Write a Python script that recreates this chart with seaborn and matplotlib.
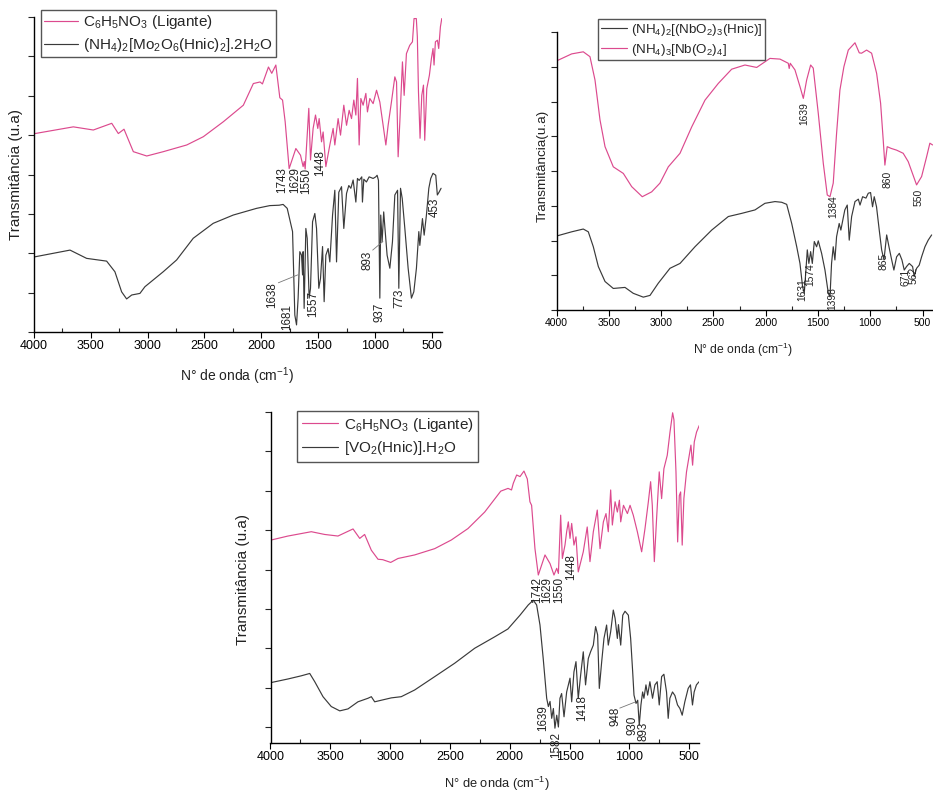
import matplotlib
matplotlib.use("Agg")
import matplotlib.pyplot as plt
import seaborn as sns
import pandas as pd
from matplotlib.ticker import MultipleLocator

# ---------------- DATA (wavenumber cm-1, transmittance in arbitrary units) ----------------
# Panel 1: ligand and Mo complex
p1_lig_w = [3991, 3654, 3478, 3316, 3258, 3208, 3126, 3008, 2862, 2656, 2510, 2334, 2158, 2070, 2011,
            1990, 1937, 1908, 1872, 1837, 1813, 1790, 1755, 1696, 1655, 1632, 1622, 1614, 1596, 1582,
            1567, 1544, 1523, 1503, 1491, 1470, 1456, 1432, 1397, 1368, 1353, 1324, 1303, 1274, 1250,
            1227, 1206, 1186, 1168, 1154, 1139, 1124, 1104, 1080, 1066, 1045, 1016, 986, 957, 928,
            904, 884, 855, 825, 810, 796, 781, 758, 743, 723, 694, 670, 656, 636, 627, 617, 603, 588,
            573, 562, 544, 521, 503, 489, 480, 468, 450, 439, 424, 412]
p1_lig_t = [5.04, 5.21, 5.13, 5.30, 5.04, 5.15, 4.58, 4.47, 4.58, 4.75, 4.96, 5.34, 5.76, 6.31, 6.35,
            6.30, 6.73, 6.57, 6.78, 5.95, 5.89, 5.34, 4.15, 4.66, 4.49, 4.20, 4.33, 4.14, 5.00, 5.68,
            4.37, 5.17, 5.51, 5.17, 5.42, 4.83, 5.08, 4.20, 4.75, 5.17, 4.75, 5.42, 5.00, 5.76, 5.25,
            5.63, 5.42, 5.89, 5.51, 6.44, 4.75, 5.93, 5.76, 6.06, 5.59, 5.93, 5.80, 6.14, 5.84, 5.25,
            4.75, 5.25, 5.84, 6.48, 6.35, 4.45, 5.34, 6.86, 6.01, 7.07, 7.28, 7.37, 7.96, 7.96, 7.50,
            6.10, 4.92, 6.01, 6.27, 4.87, 6.18, 6.52, 6.95, 7.20, 6.78, 7.37, 7.41, 7.20, 7.75, 7.96]

p1_mo_w = [3991, 3683, 3537, 3361, 3288, 3229, 3185, 3140, 3068, 3024, 2863, 2745, 2599, 2423, 2247,
           2042, 1925, 1843, 1808, 1772, 1725, 1705, 1690, 1676, 1661, 1646, 1637, 1632, 1623, 1608,
           1596, 1579, 1567, 1549, 1529, 1514, 1494, 1479, 1461, 1447, 1432, 1412, 1397, 1373, 1353,
           1338, 1318, 1294, 1274, 1250, 1230, 1212, 1192, 1168, 1154, 1139, 1116, 1110, 1098, 1075,
           1051, 1016, 993, 981, 969, 957, 949, 937, 923, 911, 893, 869, 846, 825, 801, 790, 775, 760,
           737, 708, 679, 658, 635, 614, 605, 582, 567, 547, 526, 509, 489, 465, 451, 436, 418]
p1_mo_t = [1.91, 2.08, 1.87, 1.80, 1.53, 1.02, 0.84, 0.94, 0.98, 1.15, 1.53, 1.83, 2.38, 2.76, 2.97,
           3.14, 3.21, 3.22, 3.24, 3.14, 2.55, 0.43, 0.18, 0.86, 2.04, 1.95, 1.45, 2.04, 0.60, 2.63,
           2.38, 0.86, 1.11, 2.80, 3.01, 2.63, 1.11, 1.36, 2.17, 0.77, 1.95, 2.12, 1.78, 2.97, 3.60,
           1.78, 3.55, 3.69, 2.63, 3.52, 3.72, 3.65, 3.86, 3.30, 3.90, 3.85, 3.94, 3.30, 3.88, 3.81,
           3.94, 3.90, 3.94, 3.98, 3.85, 0.86, 2.97, 2.29, 3.05, 2.60, 1.95, 1.62, 2.29, 3.48, 3.60,
           1.11, 3.65, 3.39, 2.63, 1.62, 0.86, 1.02, 1.62, 2.55, 2.20, 2.88, 2.46, 2.97, 3.65, 3.90,
           4.03, 3.98, 3.48, 3.55, 3.65]

# Panel 2: Nb complexes
p2_nb_w = [3998, 3855, 3744, 3680, 3632, 3584, 3536, 3457, 3361, 3281, 3180, 3090, 3011, 2931, 2819,
           2707, 2580, 2453, 2325, 2198, 2086, 1959, 1863, 1784, 1775, 1765, 1720, 1672, 1640, 1608,
           1570, 1545, 1497, 1449, 1411, 1385, 1354, 1322, 1290, 1252, 1210, 1146, 1105, 1083, 1035,
           987, 939, 901, 876, 860, 838, 800, 748, 685, 637, 557, 509, 461, 430, 404]
p2_nb_t = [7.17, 7.37, 7.43, 7.29, 6.62, 5.47, 4.70, 4.12, 3.93, 3.55, 3.26, 3.40, 3.65, 4.12, 4.51,
           5.27, 6.04, 6.52, 6.93, 7.05, 6.98, 7.24, 7.22, 7.10, 6.95, 7.10, 6.91, 6.43, 6.09, 6.62,
           7.05, 6.96, 5.66, 4.22, 3.31, 3.26, 3.65, 5.08, 6.33, 7.00, 7.48, 7.69, 7.40, 7.39, 7.48,
           7.39, 6.81, 5.95, 4.89, 4.17, 4.70, 4.65, 4.60, 4.51, 4.27, 3.60, 3.84, 4.41, 4.80, 4.75]

p2_nbh_w = [3998, 3855, 3744, 3696, 3648, 3600, 3536, 3457, 3345, 3266, 3170, 3106, 3027, 2915, 2819,
            2676, 2516, 2357, 2230, 2102, 2007, 1911, 1847, 1799, 1751, 1703, 1672, 1647, 1631, 1615,
            1602, 1587, 1570, 1554, 1535, 1513, 1497, 1465, 1433, 1401, 1385, 1370, 1354, 1338, 1322,
            1297, 1281, 1259, 1243, 1220, 1201, 1178, 1146, 1114, 1098, 1073, 1041, 1019, 997, 978,
            962, 940, 914, 891, 869, 843, 821, 795, 774, 748, 722, 697, 675, 653, 627, 595, 580, 557,
            532, 509, 477, 446, 413]
p2_nbh_t = [2.13, 2.25, 2.33, 2.25, 1.82, 1.25, 0.82, 0.62, 0.65, 0.48, 0.37, 0.42, 0.77, 1.20, 1.34,
            1.82, 2.30, 2.69, 2.78, 2.88, 3.07, 3.12, 3.10, 3.04, 2.49, 1.82, 1.34, 0.67, 0.48, 1.15,
            1.73, 1.34, 1.68, 1.34, 1.97, 1.82, 1.99, 1.63, 1.15, 0.48, 0.38, 1.34, 1.82, 1.44, 2.11,
            2.49, 2.30, 2.64, 2.88, 3.02, 2.01, 2.69, 3.12, 3.19, 3.02, 3.26, 3.22, 3.36, 3.38, 2.97,
            3.26, 2.97, 2.30, 1.73, 1.44, 2.16, 1.82, 1.44, 1.15, 1.53, 1.63, 1.44, 1.15, 1.25, 1.34,
            1.25, 0.96, 1.20, 1.29, 1.53, 1.82, 2.01, 2.16]

# Panel 3: ligand and V complex
p3_lig_w = [3993, 3854, 3659, 3547, 3436, 3352, 3310, 3254, 3213, 3157, 3101, 3062, 2995, 2934, 2795,
            2627, 2488, 2349, 2209, 2075, 2014, 1985, 1970, 1942, 1914, 1881, 1853, 1831, 1817, 1789,
            1761, 1705, 1663, 1630, 1607, 1593, 1574, 1560, 1538, 1524, 1510, 1496, 1482, 1463, 1446,
            1427, 1385, 1352, 1329, 1301, 1268, 1245, 1217, 1195, 1176, 1156, 1142, 1119, 1100, 1083,
            1072, 1049, 1016, 994, 967, 933, 897, 869, 841, 822, 808, 791, 772, 750, 730, 711, 683,
            660, 638, 627, 610, 596, 582, 571, 558, 544, 522, 499, 485, 471, 457, 438, 415]
p3_lig_t = [4.75, 4.85, 4.96, 4.89, 4.85, 4.97, 5.03, 4.79, 4.89, 4.49, 4.26, 4.25, 4.18, 4.28, 4.37,
            4.53, 4.75, 5.04, 5.46, 5.99, 6.06, 6.02, 6.19, 6.40, 6.36, 6.50, 6.30, 5.72, 5.63, 4.53,
            3.86, 4.37, 4.15, 3.86, 4.03, 3.90, 5.38, 4.28, 4.62, 4.96, 5.21, 4.79, 5.17, 4.62, 4.83,
            3.94, 4.45, 5.08, 4.20, 4.96, 5.51, 4.53, 5.21, 5.42, 4.96, 6.02, 5.13, 5.72, 5.46, 5.76,
            5.21, 5.63, 5.42, 5.63, 5.38, 4.96, 4.45, 5.04, 5.72, 6.23, 5.63, 4.20, 5.30, 6.48, 5.80,
            6.56, 6.90, 7.49, 7.98, 7.80, 6.48, 4.70, 5.88, 5.97, 4.62, 5.80, 6.48, 6.90, 7.16, 6.65,
            7.24, 7.49, 7.66]

p3_v_w = [3993, 3854, 3743, 3672, 3630, 3561, 3492, 3421, 3352, 3269, 3185, 3157, 3129, 3074, 2990,
          2907, 2795, 2627, 2460, 2293, 2126, 2015, 1914, 1845, 1803, 1775, 1747, 1720, 1691, 1677,
          1663, 1649, 1635, 1622, 1607, 1593, 1580, 1566, 1546, 1524, 1496, 1482, 1463, 1446, 1427,
          1407, 1385, 1366, 1343, 1324, 1301, 1282, 1265, 1251, 1231, 1212, 1190, 1176, 1156, 1134,
          1119, 1100, 1091, 1072, 1055, 1036, 1008, 989, 972, 961, 944, 930, 917, 903, 889, 878, 861,
          847, 828, 806, 786, 767, 750, 730, 711, 689, 675, 661, 639, 619, 597, 577, 558, 536, 508,
          489, 472, 458, 439, 417]
p3_v_t = [1.13, 1.22, 1.30, 1.36, 1.15, 0.77, 0.52, 0.41, 0.46, 0.64, 0.73, 0.77, 0.64, 0.68, 0.74,
          0.77, 0.94, 1.28, 1.62, 2.00, 2.29, 2.49, 2.84, 3.10, 3.22, 3.10, 2.59, 1.74, 0.73, 0.52,
          0.65, 0.22, 0.47, -0.03, 0.30, 0.00, 0.73, 0.85, 0.26, 0.89, 1.24, 0.64, 1.40, 1.66, 0.73,
          1.32, 1.91, 1.07, 1.74, 1.91, 2.08, 2.55, 2.34, 0.98, 1.66, 2.25, 2.59, 2.08, 2.42, 2.97,
          2.76, 2.25, 2.60, 2.08, 2.84, 2.94, 2.84, 2.25, 1.40, 0.81, 0.60, 0.68, 0.05, 0.56, 0.89,
          0.73, 1.07, 0.81, 1.15, 0.73, 1.07, 1.15, 0.56, 1.28, 1.34, 0.89, 0.22, 0.73, 0.89, 0.80,
          0.56, 0.47, 0.30, 0.64, 0.98, 1.07, 0.56, 0.89, 1.07, 1.15]

# Legend labels
p1_labels = [r"C$_6$H$_5$NO$_3$ (Ligante)", r"(NH$_4$)$_2$[Mo$_2$O$_6$(Hnic)$_2$].2H$_2$O"]
p2_labels = [r"(NH$_4$)$_2$[(NbO$_2$)$_3$(Hnic)]", r"(NH$_4$)$_3$[Nb(O$_2$)$_4$]"]
p3_labels = [r"C$_6$H$_5$NO$_3$ (Ligante)", r"[VO$_2$(Hnic)].H$_2$O"]

# Peak annotations: (text, x, y)
p1_peaks = [("1743", 1819, 3.86), ("1629", 1705, 3.86), ("1550", 1608, 3.83), ("1448", 1485, 4.29),
            ("1638", 1907, 0.95), ("1681", 1775, 0.37), ("1557", 1546, 0.70), ("937", 957, 0.51),
            ("893", 1063, 1.83), ("773", 781, 0.86), ("453", 474, 3.17)]
p2_peaks = [("1639", 1634, 5.65), ("1384", 1357, 2.98), ("860", 836, 3.77), ("550", 534, 3.24),
            ("1631", 1648, 0.58), ("1574", 1577, 1.01), ("1398", 1366, 0.33), ("865", 869, 1.41),
            ("671", 659, 0.94), ("562", 582, 1.01)]
p3_peaks = [("1742", 1772, 3.48), ("1629", 1684, 3.48), ("1550", 1588, 3.48), ("1448", 1488, 4.07),
            ("1639", 1722, 0.22), ("1582", 1613, -0.46), ("1418", 1396, 0.49), ("948", 1112, 0.28),
            ("930", 974, 0.05), ("893", 878, -0.10)]

PINK = "#dc4a8e"
DARK = "#3a3a3a"

sns.set_style("ticks")
plt.rcParams["font.family"] = ["Liberation Sans", "DejaVu Sans"]
plt.rcParams["mathtext.default"] = "regular"

fig = plt.figure(figsize=(9.33, 7.91), dpi=100)
W, H = 933.0, 791.0
ax1 = fig.add_axes([34 / W, 1 - 332 / H, 408 / W, 315 / H])
ax2 = fig.add_axes([556.5 / W, 1 - 310 / H, 376.5 / W, 278 / H])
ax3 = fig.add_axes([270.5 / W, 1 - 743 / H, 428.8 / W, 331 / H])


def draw(ax, w, t, color, label):
    df = pd.DataFrame({"w": w, "t": t})
    sns.lineplot(data=df, x="w", y="t", ax=ax, color=color, lw=0.85, sort=False,
                 estimator=None, label=label, legend=False)


def style(ax, xlim, ylim, tick_fs, xl_fs, yl_fs, ylab, xl_pos, yl_pos):
    ax.set_xlim(*xlim)
    ax.set_ylim(*ylim)
    ax.xaxis.set_major_locator(MultipleLocator(500))
    ax.xaxis.set_minor_locator(MultipleLocator(250))
    ax.yaxis.set_major_locator(MultipleLocator(1))
    for s in ["top", "right"]:
        ax.spines[s].set_visible(False)
    for s in ["left", "bottom"]:
        ax.spines[s].set_color("black")
        ax.spines[s].set_linewidth(1.0)
    ax.tick_params(axis="x", which="major", direction="out", length=4, width=0.8,
                   labelsize=tick_fs, pad=2, colors="black")
    ax.tick_params(axis="x", which="minor", direction="in", length=3, width=0.8)
    ax.tick_params(axis="y", which="major", direction="out", length=4, width=0.8,
                   labelleft=False)
    ax.set_xlabel(r"N° de onda (cm$^{-1}$)", fontsize=xl_fs, color="#222222")
    ax.set_ylabel(ylab, fontsize=yl_fs, color="#222222")
    ax.xaxis.set_label_coords(*xl_pos)
    ax.yaxis.set_label_coords(*yl_pos)


def annotate(ax, peaks, fs):
    for s, x, y in peaks:
        ax.text(x, y, s, rotation=90, ha="center", va="center", fontsize=fs,
                color="#222222", clip_on=False)


# Panel 1
draw(ax1, p1_lig_w, p1_lig_t, PINK, p1_labels[0])
draw(ax1, p1_mo_w, p1_mo_t, DARK, p1_labels[1])
style(ax1, (4000, 410), (0, 8), 9, 10, 11, "Transmitância (u.a)", (0.4975, -0.105), (-0.027, 0.5))
annotate(ax1, p1_peaks, 8.4)
ax1.plot([1850, 1680], [1.25, 1.45], color="#777777", lw=0.6)
ax1.plot([1020, 930], [2.08, 2.30], color="#777777", lw=0.6)
h, l = ax1.get_legend_handles_labels()
ax1.legend(h, l, loc="upper left", bbox_to_anchor=(41 / W, 1 - 10 / H), bbox_transform=fig.transFigure,
           fontsize=11, frameon=True, fancybox=False, edgecolor="#555555", borderaxespad=0,
           handlelength=2.2, handletextpad=0.35, labelspacing=0.35, borderpad=0.2, framealpha=1)

# Panel 2
draw(ax2, p2_nbh_w, p2_nbh_t, DARK, p2_labels[0])
draw(ax2, p2_nb_w, p2_nb_t, PINK, p2_labels[1])
style(ax2, (4000, 400), (0, 8), 7.5, 8.7, 9.7, "Transmitância(u.a)", (0.495, -0.11), (-0.02, 0.52))
annotate(ax2, p2_peaks, 7.4)
h, l = ax2.get_legend_handles_labels()
ax2.legend(h, l, loc="upper left", bbox_to_anchor=(598 / W, 1 - 19 / H), bbox_transform=fig.transFigure,
           fontsize=9.6, frameon=True, fancybox=False, edgecolor="#555555", borderaxespad=0,
           handlelength=2.0, handletextpad=0.3, labelspacing=0.3, borderpad=0.2, framealpha=1)

# Panel 3
draw(ax3, p3_lig_w, p3_lig_t, PINK, p3_labels[0])
draw(ax3, p3_v_w, p3_v_t, DARK, p3_labels[1])
style(ax3, (4000, 415), (-0.406, 8.0), 9, 9.3, 11, "Transmitância (u.a)", (0.528, -0.095), (-0.048, 0.495))
annotate(ax3, p3_peaks, 8.4)
ax3.plot([1080, 955], [0.48, 0.63], color="#777777", lw=0.6)
h, l = ax3.get_legend_handles_labels()
ax3.legend(h, l, loc="upper left", bbox_to_anchor=(297 / W, 1 - 411 / H), bbox_transform=fig.transFigure,
           fontsize=11, frameon=True, fancybox=False, edgecolor="#555555", borderaxespad=0,
           handlelength=2.4, handletextpad=0.35, labelspacing=0.35, borderpad=0.3, framealpha=1)

fig.savefig("out.png", dpi=100)
